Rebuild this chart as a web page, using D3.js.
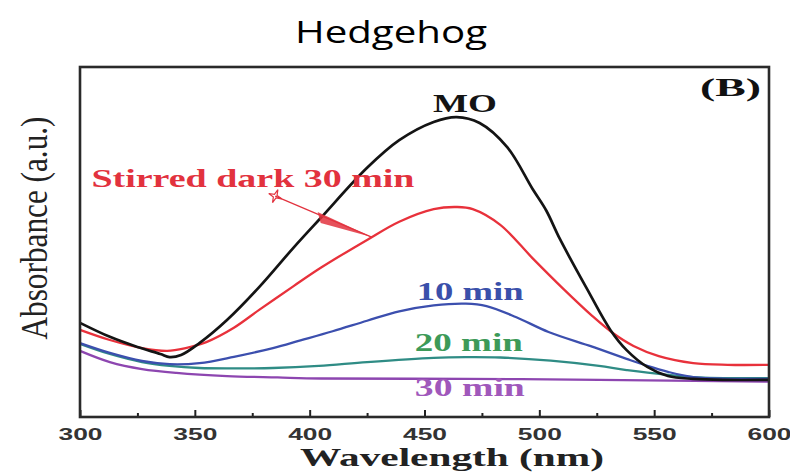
<!DOCTYPE html>
<html>
<head>
<meta charset="utf-8">
<script src="https://d3js.org/d3.v7.min.js"></script>
<style>
  body { margin: 0; background: #ffffff; }
  svg { display: block; }
</style>
</head>
<body>
<div id="chart"></div>
<script>
// wavelength (nm), absorbance (a.u.)
let moData = [[300,0.269],[313,0.229],[325,0.200],[335,0.180],[339,0.171],[344,0.177],[352,0.211],
  [364,0.277],[378,0.371],[393,0.484],[405,0.570],[425,0.712],[439,0.791],[454,0.843],[464,0.857],
  [474,0.840],[486,0.771],[497,0.652],[503,0.590],[509,0.508],[521,0.363],[531,0.248],[538,0.191],
  [547,0.143],[556,0.117],[567,0.109],[580,0.106],[600,0.106]];
let darkData = [[300,0.249],[313,0.220],[327,0.197],[338,0.189],[346,0.197],[355,0.214],[367,0.255],
  [378,0.306],[393,0.374],[405,0.427],[425,0.506],[439,0.558],[454,0.594],[464,0.600],[471,0.594],
  [483,0.549],[497,0.454],[510,0.369],[523,0.289],[532,0.240],[541,0.203],[552,0.174],[567,0.154],
  [582,0.149],[600,0.149]];
let min10Data = [[300,0.211],[313,0.183],[327,0.160],[339,0.151],[352,0.154],[367,0.172],[384,0.197],
  [396,0.219],[410,0.245],[425,0.275],[439,0.302],[454,0.319],[468,0.324],[477,0.317],[490,0.285],
  [504,0.243],[523,0.201],[538,0.166],[547,0.146],[556,0.129],[567,0.114],[582,0.109],[600,0.109]];
let min20Data = [[300,0.209],[313,0.180],[327,0.157],[339,0.146],[352,0.140],[367,0.139],[384,0.140],
  [404,0.146],[425,0.157],[454,0.169],[468,0.171],[483,0.170],[505,0.161],[526,0.146],[538,0.134],
  [567,0.114],[600,0.111]];
let min30Data = [[300,0.189],[313,0.157],[327,0.137],[342,0.126],[364,0.117],[386,0.113],[405,0.110],
  [468,0.109],[526,0.106],[600,0.101]];

let seriesNames = ["MO","Stirred dark 30 min","10 min","20 min","30 min"];
let seriesData = [moData, darkData, min10Data, min20Data, min30Data];
let lineColors = ["#141414","#e8313b","#3c4fae","#2f8c85","#8d46b0"];
let textColors = ["#141414","#e2323e","#3a50aa","#3d9a58","#a058bb"];
// label anchor: [wavelength, absorbance] of the left end of the baseline, and stretched width
let labelPos = [[453.7,0.871],[305,0.657],[446.6,0.334],[445.8,0.189],[445.8,0.059]];
let labelLen = [64,323,107,108,110];

let majorTicks = [300,350,400,450,500,550,600];
let minorTicks = [325,375,425,475,525,575];

// pointer from the "Stirred dark" label down to its curve
let pointerStart = [385,0.631];
let pointerTip = [427,0.514];

let svgWidth = 790, svgHeight = 472;
let plotLeft = 80, plotRight = 769, plotTop = 67, plotBottom = 417;

let svg = d3.select("#chart").append("svg")
  .attr("width", svgWidth)
  .attr("height", svgHeight);

let x = d3.scaleLinear().domain([300,600]).range([plotLeft,plotRight]);
let y = d3.scaleLinear().domain([0,1]).range([plotBottom,plotTop]);

let serif = "'Liberation Serif','Times New Roman',serif";

//标题
svg.append("text")
  .attr("x", 391).attr("y", 43)
  .attr("text-anchor","middle")
  .attr("font-family","'Open Sans',sans-serif")
  .attr("font-size", 31)
  .attr("textLength", 192)
  .attr("lengthAdjust","spacingAndGlyphs")
  .attr("fill","#000")
  .text("Hedgehog");

let line = d3.line()
  .x(d => x(d[0]))
  .y(d => y(d[1]))
  .curve(d3.curveCatmullRom.alpha(0.5));

// curves, MO last so it sits on top
let order = [4,3,2,1,0];
order.forEach(function(i) {
  svg.append("path")
    .datum(seriesData[i])
    .attr("d", line)
    .attr("fill","none")
    .attr("stroke", lineColors[i])
    .attr("stroke-width", i == 0 ? 2.7 : 2.3)
    .attr("stroke-linejoin","round");
});

// curve labels
for (let i = 0; i < seriesNames.length; i++) {
  svg.append("text")
    .attr("x", x(labelPos[i][0]))
    .attr("y", y(labelPos[i][1]))
    .attr("font-family", serif)
    .attr("font-weight","bold")
    .attr("font-size", i == 1 ? 26 : 25)
    .attr("textLength", labelLen[i])
    .attr("lengthAdjust","spacingAndGlyphs")
    .attr("fill", textColors[i])
    .text(seriesNames[i]);
}

// pointer: thin line, wedge and little star
let sx = x(pointerStart[0]), sy = y(pointerStart[1]);
let tx = x(pointerTip[0]), ty = y(pointerTip[1]);
svg.append("line")
  .attr("x1", sx).attr("y1", sy)
  .attr("x2", tx).attr("y2", ty)
  .attr("stroke", textColors[1])
  .attr("stroke-width", 1.2);
svg.append("path")
  .attr("d", "M" + (tx-54) + "," + (ty-25) + "L" + (tx-51) + "," + (ty-14) + "L" + tx + "," + ty + "Z")
  .attr("fill", textColors[1])
  .attr("fill-opacity", 0.85);
let star = [];
for (let k = 0; k < 8; k++) {
  let r = k % 2 == 0 ? 7 : 2;
  let a = Math.PI/4*k + Math.PI/8;
  star.push([sx + r*Math.cos(a), sy + r*Math.sin(a)]);
}
svg.append("path")
  .attr("d", "M" + star.join("L") + "Z")
  .attr("fill","none")
  .attr("stroke", textColors[1])
  .attr("stroke-width", 1.2);

// x axis: ticks point inward
let xAxis = d3.axisBottom(x)
  .tickValues(majorTicks)
  .tickSize(-7)
  .tickSizeOuter(0)
  .tickPadding(11)
  .tickFormat(d3.format("d"));
let gx = svg.append("g")
  .attr("transform","translate(0," + plotBottom + ")")
  .call(xAxis);
gx.select(".domain").remove();
gx.selectAll("line").attr("stroke","#222").attr("stroke-width",2);
gx.selectAll("text")
  .attr("font-family","'Liberation Sans',Arial,sans-serif")
  .attr("font-weight","bold")
  .attr("font-size", 17)
  .attr("fill","#333")
  .attr("textLength", 44)
  .attr("lengthAdjust","spacingAndGlyphs");

let gxMinor = svg.append("g")
  .attr("transform","translate(0," + plotBottom + ")")
  .call(d3.axisBottom(x).tickValues(minorTicks).tickSize(-4).tickSizeOuter(0).tickFormat(""));
gxMinor.select(".domain").remove();
gxMinor.selectAll("line").attr("stroke","#222").attr("stroke-width",2);

// frame
svg.append("rect")
  .attr("x", plotLeft).attr("y", plotTop)
  .attr("width", plotRight-plotLeft).attr("height", plotBottom-plotTop)
  .attr("fill","none")
  .attr("stroke","#2a2a2a")
  .attr("stroke-width", 2.6);

// panel letter
svg.append("text")
  .attr("x", 700).attr("y", 96)
  .attr("font-family", serif)
  .attr("font-weight","bold")
  .attr("font-size", 25)
  .attr("textLength", 61)
  .attr("lengthAdjust","spacingAndGlyphs")
  .attr("fill","#111")
  .text("(B)");

// axis titles
svg.append("text")
  .attr("x", 452).attr("y", 466)
  .attr("text-anchor","middle")
  .attr("font-family", serif)
  .attr("font-weight","bold")
  .attr("font-size", 25)
  .attr("textLength", 304)
  .attr("lengthAdjust","spacingAndGlyphs")
  .attr("fill","#222")
  .text("Wavelength (nm)");

svg.append("text")
  .attr("transform","translate(47,228) scale(1.25,1) rotate(-90)")
  .attr("text-anchor","middle")
  .attr("font-family", serif)
  .attr("font-size", 30)
  .attr("textLength", 223)
  .attr("lengthAdjust","spacingAndGlyphs")
  .attr("fill","#222")
  .text("Absorbance (a.u.)");
</script>
</body>
</html>
